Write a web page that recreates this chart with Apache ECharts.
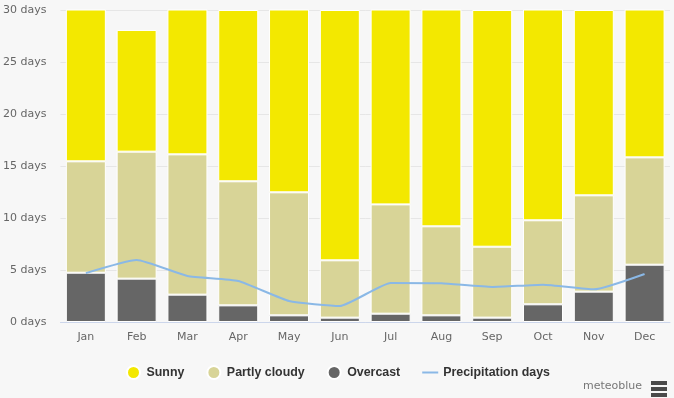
<!DOCTYPE html>
<html>
<head>
<meta charset="utf-8">
<script src="https://cdn.jsdelivr.net/npm/echarts@6/dist/echarts.min.js"></script>
<style>
html,body{margin:0;padding:0;background:#f7f7f7;}
#chart{width:674px;height:398px;}
</style>
</head>
<body>
<div id="chart"></div>
<script>
var months=["Jan","Feb","Mar","Apr","May","Jun","Jul","Aug","Sep","Oct","Nov","Dec"];
var overcast=[4.74,4.17,2.63,1.6,0.64,0.42,0.8,0.64,0.42,1.7,2.92,5.51];
var partlyCloudy=[10.71,12.21,13.49,11.93,11.83,5.51,10.51,8.56,6.82,8.08,9.26,10.32];
var sunny=[15.55,11.7,14.88,16.47,18.53,24.07,19.69,21.8,22.76,21.22,17.82,15.17];
var precipDays=[4.7,5.96,4.42,3.94,2.02,1.54,3.75,3.72,3.37,3.59,3.14,4.62];

var oChart=echarts.init(document.getElementById("chart"));
var font="DejaVu Sans";
// line icon for the legend: thin bar inside a 16x13 box
var lineIcon="path://M0,0L0,0M0,5.5L16,5.5L16,7.5L0,7.5ZM0,13L0,13";
var option={
    backgroundColor:"#f7f7f7",
    animation:false,
    grid:{left:60,right:4,top:10,bottom:76},
    legend:{
        left:121,
        top:360,
        itemGap:22,
        itemWidth:16,
        itemHeight:13,
        textStyle:{fontFamily:"Liberation Sans",fontSize:12.4,fontWeight:"bold",color:"#333"},
        data:[
            {name:"Sunny",icon:"circle"},
            {name:"Partly cloudy",icon:"circle"},
            {name:"Overcast",icon:"circle"},
            {name:"Precipitation days",icon:lineIcon}
        ]
    },
    xAxis:{
        type:"category",
        data:months,
        axisLine:{show:true,lineStyle:{color:"#ccd6eb"}},
        axisTick:{show:false},
        axisLabel:{fontFamily:font,fontSize:11,color:"#666",margin:10}
    },
    yAxis:{
        type:"value",
        min:0,
        max:30,
        interval:5,
        axisLine:{show:false},
        axisTick:{show:false},
        splitLine:{lineStyle:{color:"#e6e6e6"}},
        axisLabel:{fontFamily:font,fontSize:11,color:"#666",margin:14,formatter:"{value} days"}
    },
    series:[
        {
            name:"Overcast",type:"bar",stack:"sky",barWidth:40,
            itemStyle:{color:"#666666",borderColor:"#fff",borderWidth:1},
            data:overcast
        },
        {
            name:"Partly cloudy",type:"bar",stack:"sky",barWidth:40,
            itemStyle:{color:"#d8d497",borderColor:"#fff",borderWidth:1},
            data:partlyCloudy
        },
        {
            name:"Sunny",type:"bar",stack:"sky",barWidth:40,
            itemStyle:{color:"#f3e800",borderColor:"#fff",borderWidth:1},
            data:sunny
        },
        {
            name:"Precipitation days",type:"line",
            symbol:"none",smooth:0.15,
            lineStyle:{color:"#8ab8e6",width:2},
            itemStyle:{color:"#8ab8e6"},
            data:precipDays
        }
    ],
    graphic:[
        {type:"text",left:583,top:381,style:{text:"meteoblue",fontFamily:font,fontSize:11,fill:"#777"}},
        {type:"rect",shape:{x:651,y:381,width:16,height:4},style:{fill:"#4a4a4a"}},
        {type:"rect",shape:{x:651,y:387,width:16,height:4},style:{fill:"#4a4a4a"}},
        {type:"rect",shape:{x:651,y:393,width:16,height:4},style:{fill:"#4a4a4a"}}
    ]
};
oChart.setOption(option);
</script>
</body>
</html>
